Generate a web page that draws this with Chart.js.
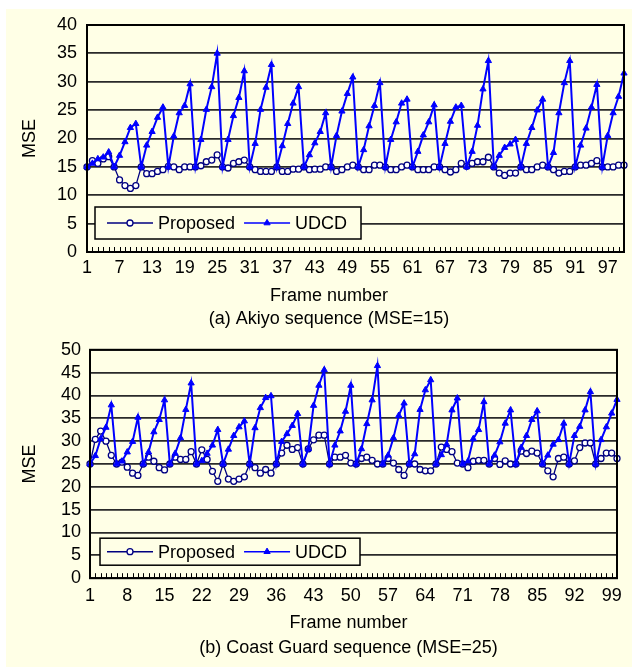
<!doctype html>
<html lang="en">
<head>
<meta charset="utf-8">
<script src="https://cdn.jsdelivr.net/npm/chart.js"></script>
<style>
  html, body { margin: 0; padding: 0; background: #fff; overflow: hidden; }
  #panel { position: absolute; left: 6px; top: 9px; width: 626px; height: 658px; background: #ffffe6; }
  .wrap { position: absolute; left: 0; }
</style>
</head>
<body>
<div id="panel"></div>
<div class="wrap" style="top:0;width:658px;height:330px"><canvas id="akiyo"></canvas></div>
<div class="wrap" style="top:330px;width:697px;height:339px"><canvas id="coast"></canvas></div>

<script>
  // frame numbers 1..100
  const frames = Array.from({length: 100}, (_, i) => String(i + 1));

  // (a) Akiyo sequence, MSE per frame
  const akiyoProposed = [
    15, 16.1, 15.6, 16.4, 16.8, 15, 12.7, 11.7, 11.2, 11.7,
    15, 13.8, 13.8, 14.2, 14.5, 15.1, 15, 14.5, 15, 15,
    15, 15.2, 15.9, 16.2, 17.1, 15, 14.8, 15.6, 15.9, 16.2,
    15, 14.5, 14.2, 14.2, 14.2, 15, 14.2, 14.2, 14.6, 14.6,
    15, 14.5, 14.6, 14.6, 15, 15, 14.2, 14.5, 15, 15.3,
    15, 14.5, 14.5, 15.3, 15.3, 15, 14.5, 14.5, 15, 15.3,
    15, 14.5, 14.5, 14.5, 15, 15, 14.5, 14.1, 14.5, 15.6,
    15.1, 15.6, 15.9, 15.9, 16.7, 15, 13.9, 13.5, 13.9, 13.9,
    15, 14.5, 14.5, 15, 15.3, 15, 14.5, 13.9, 14.2, 14.2,
    15, 15.3, 15.3, 15.6, 16.1, 15, 15, 15, 15.3, 15.3
  ];
  const akiyoUdcd = [
    15, 15.6, 16.4, 16.7, 17.6, 15, 17, 19.4, 21.9, 22.6,
    15, 18.8, 21.2, 23.7, 25.5, 15, 20.4, 24.5, 25.8, 29.6,
    15, 19.8, 25.1, 29.1, 35, 15, 19.8, 24, 27.2, 31.9,
    15, 19.1, 25.1, 29, 33, 15, 18.7, 22.6, 26.2, 29.1,
    15, 17.1, 19.2, 21.2, 24.5, 15, 20.5, 24.8, 27.9, 30.8,
    15, 18, 22.2, 25.8, 29.8, 15, 19.8, 22.9, 26.2, 26.9,
    15, 17.7, 20.6, 22.9, 25.9, 15, 19.1, 23, 25.5, 25.8,
    15, 17.7, 22.3, 28.7, 33.7, 15, 17, 18.4, 19, 19.8,
    15, 19.1, 21.9, 25, 26.9, 15, 17.5, 24.5, 29.8, 33.7,
    15, 18.8, 21.8, 25.5, 29.5, 15, 20.5, 24.5, 27.4, 31.5
  ];

  // (b) Coast Guard sequence, MSE per frame
  const coastProposed = [
    25, 30.4, 32.2, 30, 26.9, 25, 25.4, 24.3, 23, 22.5,
    25, 26.5, 25.6, 24.2, 23.7, 25, 26.5, 26, 26, 27.7,
    25, 28.1, 26, 23.4, 21.2, 25, 21.7, 21.2, 21.7, 22.2,
    25, 24.2, 23, 23.8, 23, 25, 27.4, 29.1, 28.2, 28.6,
    25, 28.3, 30.3, 31.3, 31.3, 25, 26.5, 26.5, 26.9, 25.2,
    25, 26.2, 26.5, 25.8, 25, 25, 26.2, 25.2, 23.8, 22.5,
    25, 25, 23.8, 23.5, 23.5, 25, 28.7, 28.2, 27.7, 25.2,
    25, 24.2, 25.6, 25.8, 25.8, 25, 26.2, 24.9, 25.7, 25,
    25, 27.8, 27.3, 27.8, 27.4, 25, 23.5, 22.2, 26.2, 26.5,
    25, 25.7, 28.6, 29.6, 29.6, 25, 26.2, 27.4, 27.4, 26.2
  ];
  const coastUdcd = [
    25, 26.8, 30.5, 33, 37.9, 25, 25.6, 27.6, 29.9, 35.2,
    25, 27.6, 32, 34.7, 39, 25, 27.3, 30.7, 36.9, 42.7,
    25, 25.7, 27.3, 29.1, 32.5, 25, 28.2, 31.2, 33.1, 34.4,
    25, 32.9, 37.3, 39.5, 39.9, 25, 29.9, 31.6, 33.4, 36,
    25, 28.3, 37.8, 42.2, 45.6, 25, 29.1, 32.2, 36.5, 42.2,
    25, 28.3, 33.8, 39, 46.5, 25, 26.9, 30.7, 35.6, 38.3,
    25, 27.2, 36.9, 41.2, 43.4, 25, 27, 29.3, 36.8, 39.4,
    25, 25.6, 30.5, 32.5, 38.6, 25, 26.9, 29.8, 33.9, 36.8,
    25, 28.6, 31.2, 34.7, 36.6, 25, 26.9, 29.3, 30.3, 33.9,
    25, 31.2, 33.2, 36.8, 40.8, 25, 30.3, 33.1, 36.1, 39.1
  ];

  const FONT = "'Liberation Sans', Arial, sans-serif";
  const BG = '#ffffe6';
  const NAVY = '#000080';
  const BLUE = '#0000ff';

  Chart.defaults.font.family = FONT;
  Chart.defaults.color = '#000';

  // plot border, inside tick marks and the boxed legend inside the plot
  const framePlugin = {
    id: 'frame',
    afterDatasetsDraw(chart, args, opts) {
      const {ctx, chartArea: a} = chart;
      const x = chart.scales.x;
      ctx.save();

      ctx.strokeStyle = '#000';
      ctx.lineWidth = 1;
      ctx.beginPath();
      frames.forEach((f, i) => {
        const px = Math.round(x.getPixelForValue(i)) + 0.5;
        ctx.moveTo(px, a.bottom);
        ctx.lineTo(px, a.bottom - 5);
      });
      ctx.stroke();

      const lg = opts.legend;
      const bx = a.left + lg.dx, by = a.bottom - lg.dy - lg.h;
      ctx.fillStyle = BG;
      ctx.fillRect(bx, by, lg.w, lg.h);
      ctx.lineWidth = 1.5;
      ctx.strokeStyle = '#000';
      ctx.strokeRect(bx, by, lg.w, lg.h);
      ctx.font = '18px ' + FONT;
      ctx.textBaseline = 'middle';
      ctx.textAlign = 'left';
      const cy = by + lg.h / 2;
      let lx = bx + lg.pad;
      chart.data.datasets.forEach(ds => {
        ctx.strokeStyle = ds.borderColor;
        ctx.lineWidth = 1.5;
        ctx.beginPath();
        ctx.moveTo(lx, cy);
        ctx.lineTo(lx + 46, cy);
        ctx.stroke();
        ctx.fillStyle = ds.pointBackgroundColor;
        ctx.strokeStyle = ds.pointBorderColor;
        ctx.lineWidth = ds.pointBorderWidth;
        Chart.helpers.drawPoint(ctx, {pointStyle: ds.pointStyle, radius: ds.pointRadius,
          borderWidth: ds.pointBorderWidth, rotation: 0}, lx + 23, cy);
        ctx.fillStyle = '#000';
        ctx.fillText(ds.label, lx + 51, cy + 1);
        lx += 51 + ctx.measureText(ds.label).width + 9;
      });

      ctx.strokeStyle = '#000';
      ctx.lineWidth = 2;
      ctx.strokeRect(a.left, a.top, a.right - a.left, a.bottom - a.top);
      ctx.restore();
    }
  };

  function makeChart(id, c) {
    return new Chart(document.getElementById(id), {
      type: 'line',
      data: {
        labels: frames,
        datasets: [{
          label: 'Proposed',
          data: c.proposed,
          borderColor: NAVY,
          borderWidth: 1.3,
          pointStyle: 'circle',
          pointRadius: 3,
          pointBorderWidth: 1.3,
          pointBackgroundColor: '#ffffff',
          pointBorderColor: NAVY,
          order: 1
        }, {
          label: 'UDCD',
          data: c.udcd,
          borderColor: BLUE,
          borderWidth: 2,
          pointStyle: 'triangle',
          pointRadius: 3.6,
          pointBorderWidth: 1,
          pointBackgroundColor: BLUE,
          pointBorderColor: BLUE,
          order: 0
        }]
      },
      options: {
        responsive: true,
        maintainAspectRatio: false,
        animation: false,
        layout: {padding: c.padding},
        plugins: {
          legend: {display: false},
          tooltip: {enabled: false},
          title: {
            display: true, position: 'bottom', text: c.caption,
            font: {size: 18, weight: 'normal'}, padding: c.captionPad
          },
          subtitle: {
            display: true, position: 'bottom', text: 'Frame number',
            font: {size: 18, weight: 'normal'}, padding: c.xTitlePad
          },
          frame: {legend: c.legend}
        },
        scales: {
          x: {
            grid: {display: false, drawTicks: false},
            border: {display: false},
            ticks: {
              autoSkip: false, maxRotation: 0, font: {size: 18}, padding: c.xTickPad,
              callback: (v, i) => (i % c.every === 0 ? frames[i] : '')
            },
            afterFit: s => { s.height = c.xHeight; }
          },
          y: {
            min: 0, max: c.yMax,
            grid: {color: '#2a2a2a', lineWidth: 1.8, drawTicks: false},
            border: {display: false},
            ticks: {stepSize: 5, autoSkip: false, font: {size: 18}, padding: c.yTickPad},
            title: {display: true, text: 'MSE', font: {size: 18}, padding: {top: 19, bottom: 0}},
            afterFit: s => { s.width = c.yWidth; }
          },
          // empty right-hand gutter, so the bottom captions centre where the original ones sit
          gutter: {
            position: 'right',
            grid: {display: false, drawTicks: false},
            border: {display: false},
            ticks: {display: false},
            afterFit: s => { s.width = c.rightGap; }
          }
        }
      },
      plugins: [framePlugin]
    });
  }

  makeChart('akiyo', {
    proposed: akiyoProposed, udcd: akiyoUdcd, yMax: 40, every: 6,
    caption: '(a) Akiyo sequence (MSE=15)',
    padding: {left: 0, top: 25, right: 0, bottom: 0}, rightGap: 34,
    captionPad: {top: 2, bottom: 0},
    xTitlePad: {top: 0, bottom: 0},
    xHeight: 32.8, xTickPad: 5, yWidth: 87, yTickPad: 10,
    legend: {dx: 8, dy: 13, w: 266, h: 32, pad: 12}
  });

  makeChart('coast', {
    proposed: coastProposed, udcd: coastUdcd, yMax: 50, every: 7,
    caption: '(b) Coast Guard sequence (MSE=25)',
    padding: {left: 0, top: 19, right: 0, bottom: 0}, rightGap: 80,
    captionPad: {top: 2, bottom: 10},
    xTitlePad: {top: 0, bottom: 1.4},
    xHeight: 34.2, xTickPad: 7.5, yWidth: 90, yTickPad: 9,
    legend: {dx: 10, dy: 13, w: 260, h: 27, pad: 7}
  });
</script>
</body>
</html>
